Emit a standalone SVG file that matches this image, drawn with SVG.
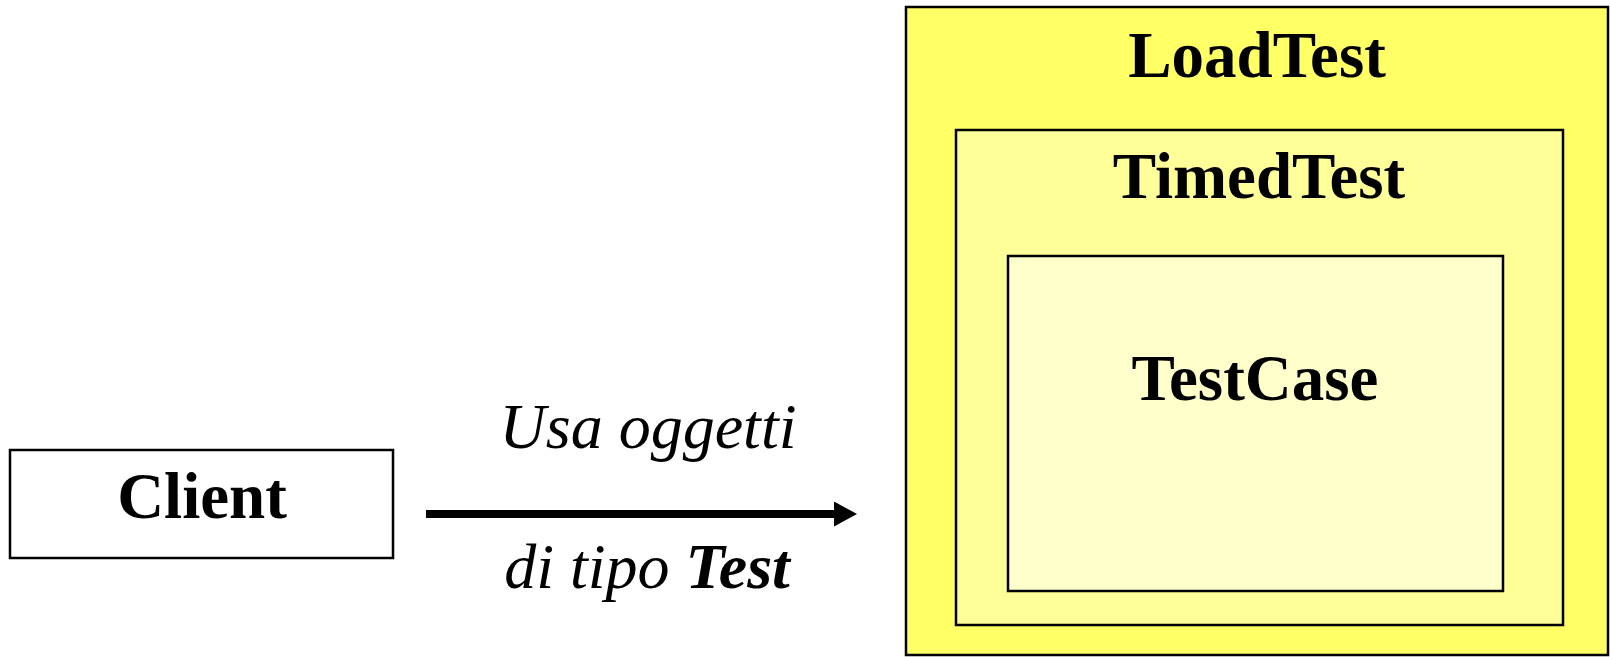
<svg xmlns="http://www.w3.org/2000/svg" width="1610" height="657" viewBox="0 0 1610 657">
  <defs>
    <style>
      .box { stroke: #000; stroke-width: 2.5; }
      .label { font-family: "Liberation Serif", "Times New Roman", serif; font-weight: bold; font-size: 65px; fill: #000; text-anchor: middle; }
      .note { font-family: "Liberation Serif", "Times New Roman", serif; font-style: italic; font-size: 64px; fill: #000; text-anchor: middle; }
    </style>
    <marker id="arrowHead" markerWidth="23" markerHeight="25" refX="0" refY="12.5" orient="auto" markerUnits="userSpaceOnUse">
      <path d="M0,0 L23,12.5 L0,25 Z" fill="#000"/>
    </marker>
  </defs>
  <rect width="1610" height="657" fill="#fff"/>

  <g id="client">
    <rect class="box" x="10" y="450" width="383" height="108" fill="#fff"/>
    <text class="label" x="202" y="518" font-size="64">Client</text>
  </g>

  <g id="loadtest">
    <rect class="box" x="906" y="7" width="702" height="648" fill="#FFFF66"/>
    <text class="label" x="1257" y="77">LoadTest</text>
  </g>

  <g id="timedtest">
    <rect class="box" x="956" y="130" width="607" height="495" fill="#FFFF99"/>
    <text class="label" x="1259" y="198">TimedTest</text>
  </g>

  <g id="testcase">
    <rect class="box" x="1008" y="256" width="495" height="335" fill="#FFFFCC"/>
    <text class="label" x="1255" y="400">TestCase</text>
  </g>

  <g id="connectors">
    <line x1="426" y1="514" x2="834" y2="514" stroke="#000" stroke-width="8" marker-end="url(#arrowHead)"/>
    <text class="note" x="648" y="448">Usa oggetti</text>
    <text class="note" x="647" y="588">di tipo <tspan font-weight="bold">Test</tspan></text>
  </g>
</svg>
